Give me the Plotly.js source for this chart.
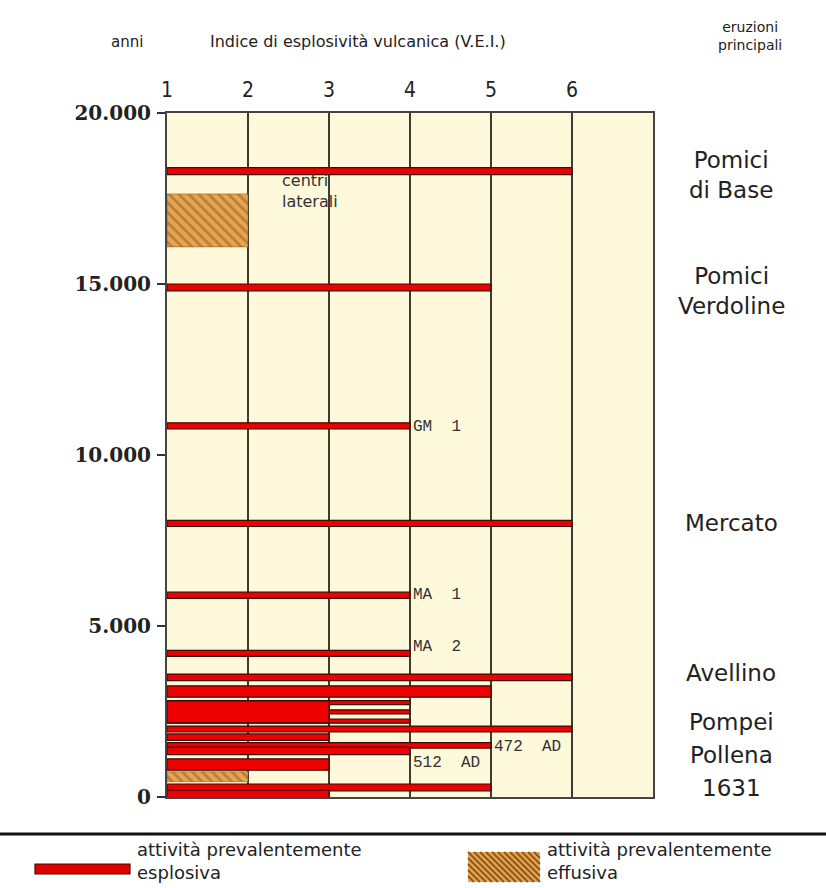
<!DOCTYPE html>
<html>
<head>
<meta charset="utf-8">
<script src="https://cdn.plot.ly/plotly-3.0.1.min.js"></script>
<style>
  html, body { margin: 0; padding: 0; background: #ffffff; }
  #chart { width: 826px; height: 888px; }
</style>
</head>
<body>
<div id="chart"></div>
<script>
// ---- data ----
const veiTicks = [1, 2, 3, 4, 5, 6];
const yTickVals = [0, 5000, 10000, 15000, 20000];
const yTickText = ['0', '5.000', '10.000', '15.000', '20.000'];

// explosive activity: age (years ago), VEI reached, duration span (years)
const explosiveYears = [18300, 14900, 10850, 8000, 5900, 4200, 3500, 3085, 2760, 2490, 2220, 2490, 1990, 1750, 1510, 1350, 950, 280, 70];
const explosiveVEI   = [6, 5, 4, 6, 4, 4, 6, 5, 4, 4, 4, 3, 6, 3, 5, 4, 3, 5, 3];
const explosiveSpan  = [200, 200, 180, 180, 180, 180, 190, 330, 120, 120, 120, 640, 170, 190, 160, 220, 330, 200, 260];

// effusive activity
const effusiveYears = [16860, 594];
const effusiveVEI   = [2, 2];
const effusiveSpan  = [1550, 293];

// labels of single eruptions inside the plot
const siteLabels = ['GM  1', 'MA  1', 'MA  2', '472  AD', '512  AD'];
const siteVEI    = [4, 4, 4, 5, 4];
const siteYears  = [10820, 5900, 4390, 1470, 1000];

// main eruptions (right column)
const eruptionNames = ['Pomici<br>di Base', 'Pomici<br>Verdoline', 'Mercato', 'Avellino', 'Pompei', 'Pollena', '1631'];
const eruptionLabelY = [175, 291, 523, 673, 722, 755, 788];

// ---- layout helpers (pixel -> paper) ----
const L = 167, R = 653, T = 113, B = 797;
const px = x => (x - L) / (R - L);
const py = y => (B - y) / (B - T);

const traces = [
  {
    type: 'bar', orientation: 'h', name: 'attività prevalentemente esplosiva',
    y: explosiveYears, x: explosiveVEI.map(v => v - 1), base: 1, width: explosiveSpan,
    marker: { color: '#ee0000', line: { color: '#3b0d00', width: 1.2 } },
    cliponaxis: false, hoverinfo: 'skip'
  },
  {
    type: 'bar', orientation: 'h', name: 'attività prevalentemente effusiva',
    y: effusiveYears, x: effusiveVEI.map(v => v - 1), base: 1, width: effusiveSpan,
    marker: {
      color: '#e6a552',
      line: { color: '#7a5020', width: 0.5 },
      pattern: { shape: '\\', fgcolor: '#8b5a1e', fillmode: 'overlay', size: 7, solidity: 0.4 }
    },
    hoverinfo: 'skip'
  }
];

const annotations = [];
const txt = (text, x, y, size, opts) => Object.assign({
  text: text, xref: 'paper', yref: 'paper', x: px(x), y: py(y),
  showarrow: false, xanchor: 'center', yanchor: 'middle',
  font: { family: 'DejaVu Sans', size: size, color: '#222' }
}, opts || {});

annotations.push(txt('anni', 127, 42, 15));
annotations.push(txt('Indice di esplosività vulcanica (V.E.I.)', 358, 42, 16));
annotations.push(txt('eruzioni<br>principali', 750, 36, 14));

eruptionNames.forEach((t, i) => annotations.push(txt(t, 731, eruptionLabelY[i], 23)));

annotations.push(txt('centri<br>laterali', 280, 191, 16, { xanchor: 'left', align: 'left',
  font: { family: 'DejaVu Sans', size: 16, color: '#333' } }));

siteLabels.forEach((t, i) => annotations.push({
  text: t, xref: 'x', yref: 'y', x: siteVEI[i], y: siteYears[i],
  showarrow: false, xanchor: 'left', yanchor: 'middle', xshift: 1,
  font: { family: 'Liberation Mono', size: 16, color: '#333' }
}));

// legend texts
annotations.push(txt('attività prevalentemente<br>esplosiva', 135, 861, 18, { xanchor: 'left', align: 'left' }));
annotations.push(txt('attività prevalentemente<br>effusiva', 545, 861, 18, { xanchor: 'left', align: 'left' }));

// legend keys and separator
const shapes = [
  { type: 'line', xref: 'paper', yref: 'paper', x0: px(0), x1: px(826), y0: py(834), y1: py(834),
    line: { color: '#111', width: 3 } },
  { type: 'rect', xref: 'paper', yref: 'paper', x0: px(35), x1: px(130), y0: py(874), y1: py(864),
    fillcolor: '#e00000', line: { color: '#3b0d00', width: 1.2 } },
  { type: 'rect', xref: 'paper', yref: 'paper', x0: px(468), x1: px(540), y0: py(882), y1: py(852),
    fillcolor: '#e6a552', line: { width: 0 } }
];
let hatch = '';
for (let k = -30; k <= 72; k += 6) {
  const t0 = Math.max(0, -k), t1 = Math.min(30, 72 - k);
  if (t1 > t0) {
    hatch += 'M' + px(468 + k + t0) + ',' + py(852 + t0) + 'L' + px(468 + k + t1) + ',' + py(852 + t1);
  }
}
shapes.push({ type: 'path', xref: 'paper', yref: 'paper', path: hatch, line: { color: '#8b5a1e', width: 2 } });

const layout = {
  width: 826, height: 888, autosize: false,
  margin: { l: L, r: 826 - R, t: T, b: 888 - B, pad: 0 },
  paper_bgcolor: '#ffffff', plot_bgcolor: '#fdf9da',
  showlegend: false, barmode: 'overlay', bargap: 0,
  xaxis: {
    side: 'top', range: [1, 7], tickvals: veiTicks, ticks: '', ticklabelstandoff: 6,
    tickfont: { family: 'DejaVu Sans Condensed', size: 21, color: '#222' },
    showgrid: true, gridcolor: '#3c3c30', gridwidth: 1.5,
    showline: true, mirror: true, linecolor: '#444', linewidth: 2, zeroline: false, fixedrange: true
  },
  yaxis: {
    range: [0, 20000], tickvals: yTickVals, ticktext: yTickText,
    ticks: 'outside', ticklen: 8, tickwidth: 1.5, tickcolor: '#333', ticklabelstandoff: 2,
    tickfont: { family: 'DejaVu Serif', size: 20, color: '#222', weight: 'bold' },
    showgrid: false, showline: true, mirror: true, linecolor: '#444', linewidth: 2, zeroline: false, fixedrange: true
  },
  annotations: annotations,
  shapes: shapes
};

Plotly.newPlot('chart', traces, layout, { displayModeBar: false, staticPlot: true });
</script>
</body>
</html>
